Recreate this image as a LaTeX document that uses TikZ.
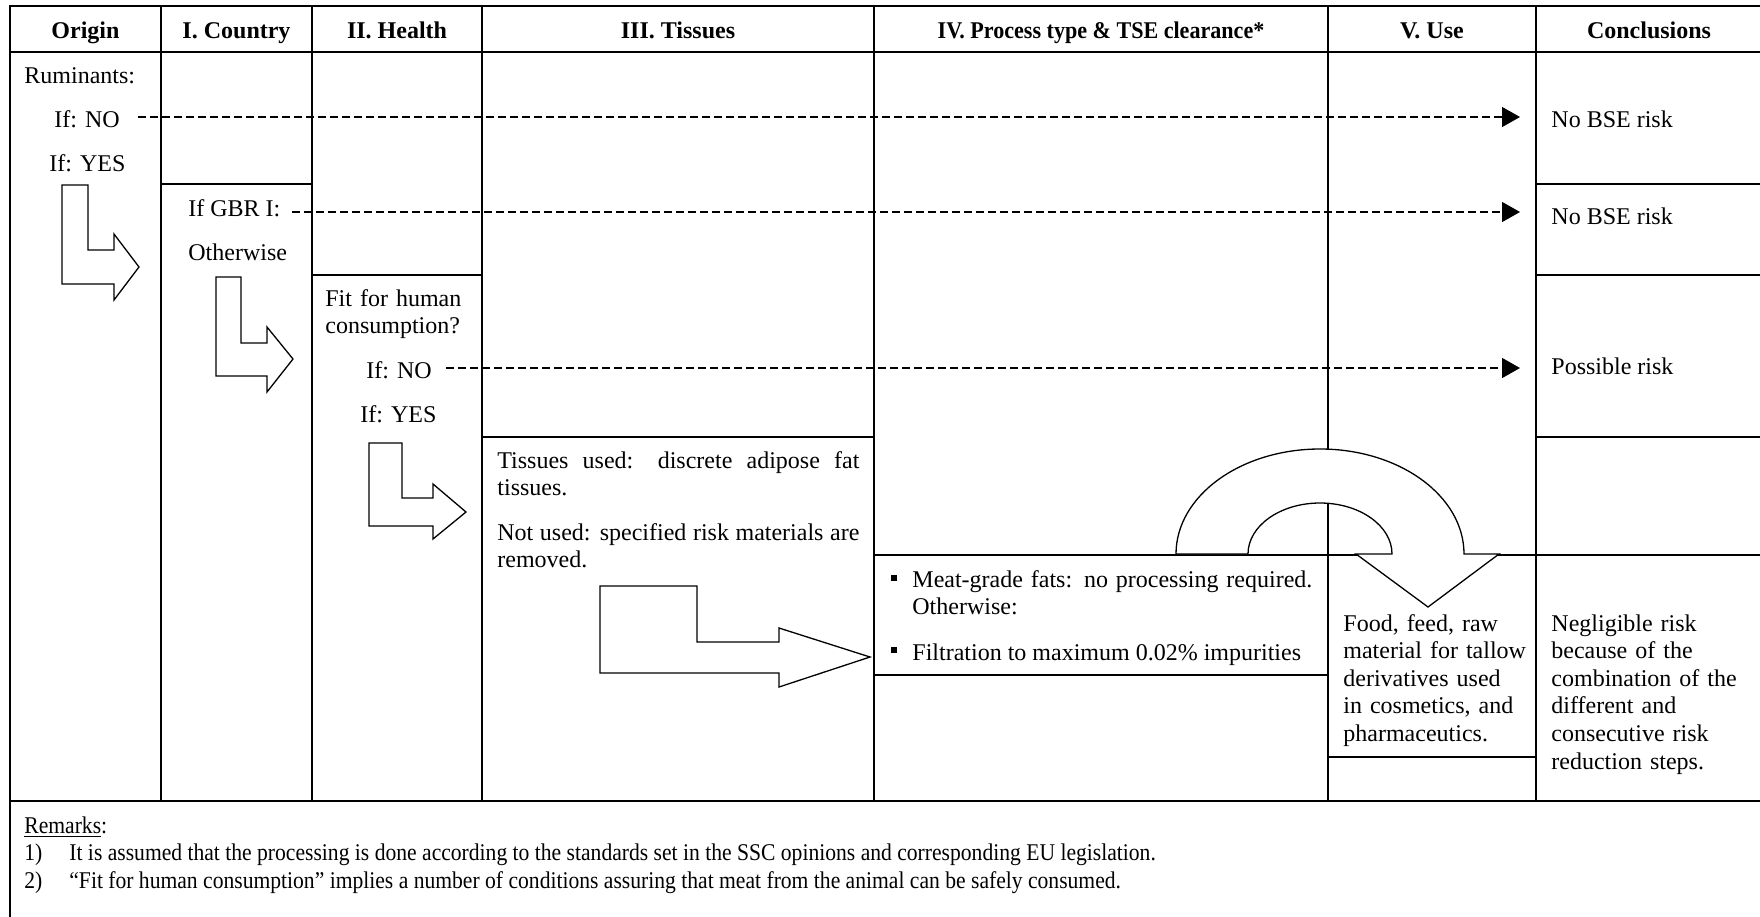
\documentclass[tikz,border=0pt]{standalone}
\usepackage{fontspec}
\setmainfont{Liberation Serif}
\newfontfamily\narrowfont[FakeStretch=0.90]{Liberation Serif}
\newfontfamily\hdrnarrow[FakeStretch=0.92]{Liberation Serif}
\usetikzlibrary{arrows.meta}
\begin{document}
\begin{tikzpicture}[x=0.5pt,y=-0.5pt,
  grid/.style={line width=1pt},
  bentarrow/.style={line width=0.65pt, fill=white, line join=miter},
  dasharrow/.style={line width=0.65pt, dash pattern=on 4pt off 2pt, -{Triangle[length=9pt,width=10pt]}},
  txt/.style={inner sep=0pt, anchor=base west, font=\fontsize{12pt}{13.8pt}\selectfont},
  ml/.style={txt, align=left, text width=#1},
  hdr/.style={inner sep=0pt, anchor=base, font=\fontsize{12pt}{13.8pt}\selectfont\bfseries},
  rem/.style={inner sep=0pt, anchor=base west, font=\fontsize{12pt}{13.8pt}\narrowfont},
]
\useasboundingbox (0,0) rectangle (1760,916);
% ---------- table grid ----------
\draw[grid] (1764,6) -- (10,6) -- (10,920);
\draw[grid] (10,52) -- (1764,52);
\draw[grid] (10,801) -- (1764,801);
\foreach \cx in {161,312,482,874,1328,1536} {\draw[grid] (\cx,6) -- (\cx,801);}
\draw[grid] (161,184) -- (312,184);
\draw[grid] (312,275) -- (482,275);
\draw[grid] (482,437) -- (874,437);
\draw[grid] (874,555) -- (1764,555);
\draw[grid] (874,675) -- (1328,675);
\draw[grid] (1328,757) -- (1536,757);
\draw[grid] (1536,184) -- (1764,184);
\draw[grid] (1536,275) -- (1764,275);
\draw[grid] (1536,437) -- (1764,437);
% ---------- dashed arrows ----------
\coordinate (s1) at (138,117);  \coordinate (e1) at (1520,117);
\coordinate (s2) at (292,212);  \coordinate (e2) at (1520,212);
\coordinate (s3) at (446,368);  \coordinate (e3) at (1520,368);
\draw[dasharrow] (s1) -- (e1);
\draw[dasharrow] (s2) -- (e2);
\draw[dasharrow] (s3) -- (e3);
% ---------- bent block arrows ----------
\draw[bentarrow] (62,185) -- (88,185) -- (88,250) -- (114,250) -- (114,234) -- (139,267) -- (114,300) -- (114,284) -- (62,284) -- cycle;
\draw[bentarrow] (216,277) -- (241,277) -- (241,343) -- (267,343) -- (267,327) -- (293,359) -- (267,392) -- (267,376) -- (216,376) -- cycle;
\draw[bentarrow] (369,443) -- (402,443) -- (402,498) -- (433,498) -- (433,484) -- (466,512) -- (433,539) -- (433,526) -- (369,526) -- cycle;
\draw[bentarrow] (600,586) -- (697,586) -- (697,642) -- (779,642) -- (779,628) -- (870,657) -- (779,687) -- (779,673) -- (600,673) -- cycle;
% ---------- U-turn arrow ----------
\draw[bentarrow] (1176,554) arc[start angle=180,end angle=0,x radius=72pt,y radius=52.5pt]
  -- (1499,554) -- (1428,607) -- (1356,554) -- (1392,554)
  arc[start angle=0,end angle=180,x radius=36pt,y radius=25.5pt] -- cycle;
% ---------- bullets ----------
\fill (891,575) rectangle (897,581);
\fill (891,647) rectangle (897,653);
% ---------- headers ----------
\node[hdr] (hOrigin)  at (85.5,38) {Origin};
\node[hdr] (hCountry) at (236.5,38) {I. Country};
\node[hdr] (hHealth)  at (397,38) {II. Health};
\node[hdr] (hTissues) at (678,38) {III. Tissues};
\node[hdr] (hProcess) at (1101,38) {\hdrnarrow\bfseries IV. Process type \& TSE clearance*};
\node[hdr] (hUse)     at (1432,38) {V. Use};
\node[hdr] (hConcl)   at (1649,38) {Conclusions};
% ---------- body texts ----------
\node[txt] (rum)    at (24,83)  {Ruminants:};
\node[txt] (ifno1)  at (54,127) {If: NO};
\node[txt] (ifyes1) at (49,171) {If: YES};
\node[txt] (ifgbr)  at (188,216) {If GBR I:};
\node[txt] (other1) at (188,260) {Otherwise};
\node[ml=80pt]  (fit)    at (325,306) {Fit for human\\consumption?};
\node[txt] (ifno2)  at (366,378) {If: NO};
\node[txt] (ifyes2) at (360,422) {If: YES};
\node[txt, align=justify, text width=181pt] (tis1) at (497,468) {Tissues used: discrete adipose fat\linebreak tissues.};
\node[txt, align=justify, text width=181pt] (tis2) at (497,540) {Not used: specified risk materials are\linebreak removed.};
\node[txt, align=justify, text width=200pt] (meat) at (912,587) {Meat-grade fats: no processing required.\linebreak Otherwise:};
\node[txt] (filt) at (912,660) {Filtration to maximum 0.02\% impurities};
\node[ml=100pt] (use) at (1343,631) {Food, feed, raw\\material for tallow\\derivatives used\\in cosmetics, and\\pharmaceutics.};
\node[txt] (nob1) at (1551,127) {No BSE risk};
\node[txt] (nob2) at (1551,224) {No BSE risk};
\node[txt] (poss) at (1551,374) {Possible risk};
\node[ml=100pt] (negl) at (1551,631) {Negligible risk\\because of the\\combination of the\\different and\\consecutive risk\\reduction steps.};
% ---------- remarks ----------
\node[rem] (remh) at (24,833) {\underline{Remarks}:};
\node[rem] (r1n) at (24,860) {1)};
\node[rem] (r1)  at (69,860) {It is assumed that the processing is done according to the standards set in the SSC opinions and corresponding EU legislation.};
\node[rem] (r2n) at (24,888) {2)};
\node[rem] (r2)  at (69,888) {“Fit for human consumption” implies a number of conditions assuring that meat from the animal can be safely consumed.};
\end{tikzpicture}
\end{document}
